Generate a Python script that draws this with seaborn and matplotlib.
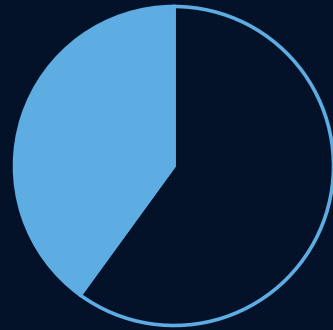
import matplotlib
matplotlib.use("Agg")
import matplotlib.pyplot as plt
import seaborn as sns

categories = ["Other", "Share"]
values = [60, 40]

BG = "#031129"
BLUE = "#5DADE2"

sns.set_theme(style="white")
plt.rcParams['font.family'] = ['DejaVu Sans']

W, H = 333, 330
fig = plt.figure(figsize=(W / 100, H / 100), dpi=100, facecolor=BG)
cx, cy, r = 174, 166, 161
ax = fig.add_axes([(cx - r) / W, (H - cy - r) / H, 2 * r / W, 2 * r / H])
ax.set_facecolor(BG)
rad = 159.5 / 161
ax.pie(values, colors=[BG, BLUE], startangle=90, counterclock=False,
       radius=rad, wedgeprops=dict(edgecolor=BLUE, linewidth=2.6))
ax.set_xlim(-1, 1)
ax.set_ylim(-1, 1)
ax.set_aspect("equal")
ax.axis("off")
fig.savefig("out.png", dpi=100, facecolor=BG)
